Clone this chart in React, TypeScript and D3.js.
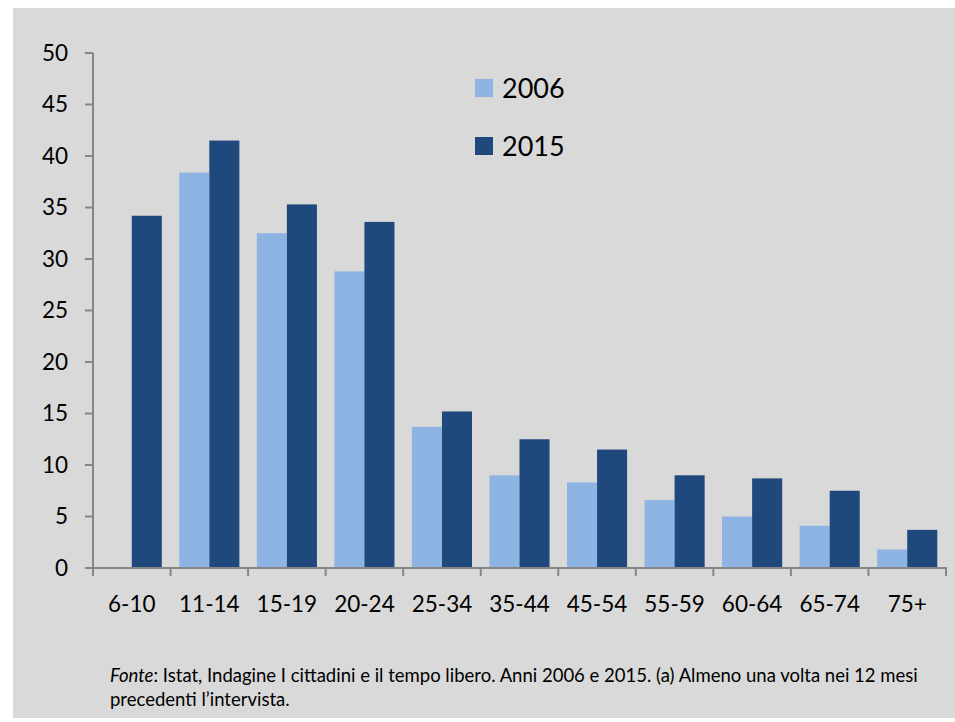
import { useMemo } from "react";
import * as d3 from "d3";

const categories = ["6-10", "11-14", "15-19", "20-24", "25-34", "35-44", "45-54", "55-59", "60-64", "65-74", "75+"];
const values2006: (number | null)[] = [null, 38.4, 32.5, 28.8, 13.7, 9.0, 8.3, 6.6, 5.0, 4.1, 1.8];
const values2015: number[] = [34.2, 41.5, 35.3, 33.6, 15.2, 12.5, 11.5, 9.0, 8.7, 7.5, 3.7];
const yTicks = [0, 5, 10, 15, 20, 25, 30, 35, 40, 45, 50];
const seriesNames = ["2006", "2015"];

const W = 955;
const H = 722;
const COLORS = ["#8EB4E3", "#1F497D"];
const AXIS = "#868686";
const FONT = "Lato, 'Open Sans', sans-serif";

export default function App() {
  const x = useMemo(() => d3.scaleBand().domain(categories).range([93, 946]).paddingInner(0).paddingOuter(0), []);
  const y = useMemo(() => d3.scaleLinear().domain([0, 50]).range([568, 53]), []);
  const inner = useMemo(
    () => d3.scaleBand().domain(seriesNames).range([0, x.bandwidth()]).paddingInner(0).paddingOuter(0.29),
    [x]
  );

  const series = [values2006, values2015];

  return (
    <svg width={W} height={H} style={{ position: "absolute", left: 0, top: 0 }} fontFamily={FONT}>
      <rect x={0} y={0} width={W} height={H} fill="#ffffff" />
      <rect x={13} y={8} width={W - 13} height={710} fill="#D9D9D9" />

      {/* bars */}
      {series.map((vals, si) =>
        vals.map((v, i) =>
          v == null ? null : (
            <rect
              key={`${si}-${i}`}
              x={(x(categories[i]) ?? 0) + (inner(seriesNames[si]) ?? 0)}
              y={y(v)}
              width={inner.bandwidth()}
              height={y(0) - y(v)}
              fill={COLORS[si]}
            />
          )
        )
      )}

      {/* y axis */}
      <line x1={93} x2={93} y1={y(50)} y2={y(0)} stroke={AXIS} strokeWidth={2} />
      {yTicks.map((t) => (
        <g key={t}>
          <line x1={85} x2={93} y1={y(t)} y2={y(t)} stroke={AXIS} strokeWidth={2} />
          <text x={68} y={y(t)} dy="0.35em" textAnchor="end" fontSize={22.5} fill="#000">
            {t}
          </text>
        </g>
      ))}

      {/* x axis */}
      <line x1={92} x2={947} y1={y(0)} y2={y(0)} stroke={AXIS} strokeWidth={2} />
      {categories.map((c) => (
        <line key={c} x1={x(c)} x2={x(c)} y1={y(0)} y2={y(0) + 8} stroke={AXIS} strokeWidth={2} />
      ))}
      <line x1={946} x2={946} y1={y(0)} y2={y(0) + 8} stroke={AXIS} strokeWidth={2} />
      {categories.map((c) => (
        <text key={c} x={(x(c) ?? 0) + x.bandwidth() / 2} y={612} textAnchor="middle" fontSize={22.5} fill="#000">
          {c}
        </text>
      ))}

      {/* legend */}
      {seriesNames.map((s, i) => (
        <g key={s} transform={`translate(475, ${79 + i * 58})`}>
          <rect x={0} y={0} width={18} height={18} fill={COLORS[i]} />
          <text x={27} y={9} dy="0.36em" fontSize={27} fill="#000">
            {s}
          </text>
        </g>
      ))}

      {/* footnote */}
      <text x={110} y={682} fontSize={18.5} fill="#000">
        <tspan fontStyle="italic">Fonte</tspan>
        <tspan>: Istat, Indagine I cittadini e il tempo libero. Anni 2006 e 2015. (a) Almeno una volta nei 12 mesi</tspan>
      </text>
      <text x={110} y={706} fontSize={18.5} fill="#000">
        precedenti l’intervista.
      </text>
    </svg>
  );
}
